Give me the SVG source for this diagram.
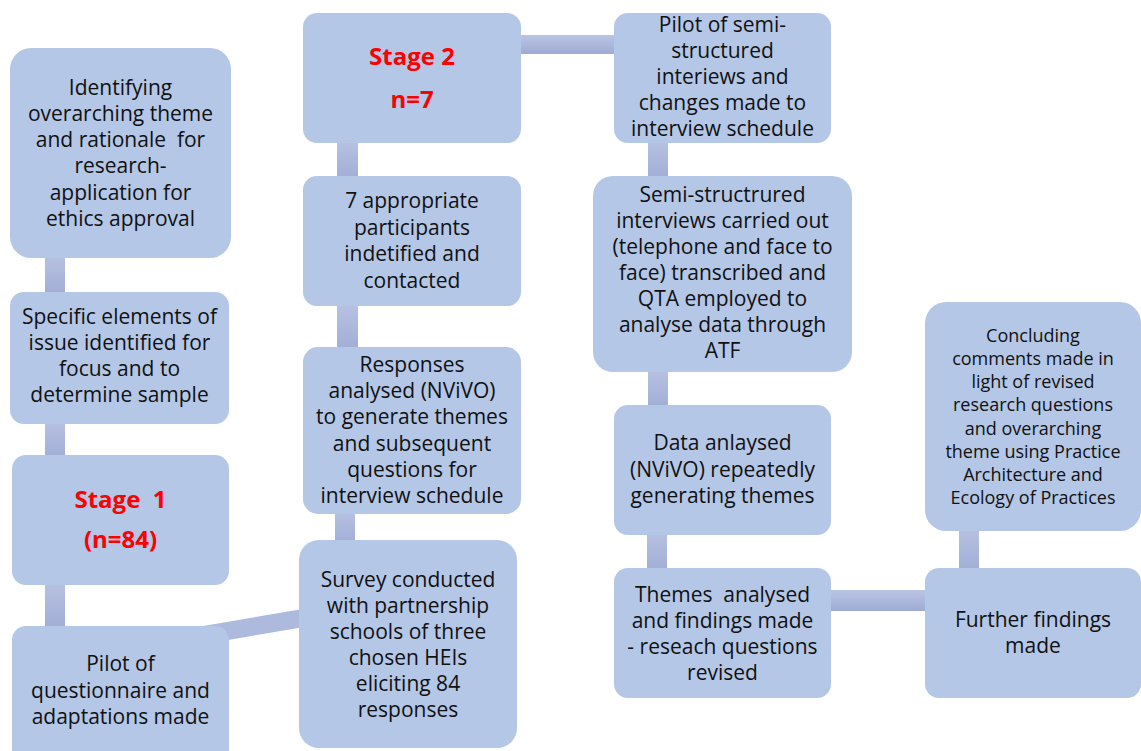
<svg xmlns="http://www.w3.org/2000/svg" width="1141" height="751" viewBox="0 0 1141 751">
  <defs>
    <linearGradient id="barShade" x1="0" y1="0" x2="0" y2="1">
      <stop offset="0" stop-color="#BAC4E4"/>
      <stop offset="1" stop-color="#9EABD3"/>
    </linearGradient>
    <style>
      .box { fill: #B4C7E7; }
      .bar { fill: url(#barShade); }
      .link { stroke: #AEBADD; stroke-width: 18; fill: none; }
      .t { font-family: "Open Sans", "Noto Sans", sans-serif; font-size: 21px; fill: #111111; text-anchor: middle; }
      .small { font-size: 18px; }
      .stage { font-family: "Open Sans", "Noto Sans", sans-serif; font-size: 24px; font-weight: bold; fill: #FF0000; text-anchor: middle; }
    </style>
  </defs>
  <rect width="1141" height="751" fill="#FFFFFF"/>

  <!-- connectors -->
  <g id="connectors">
    <!-- column 1 -->
    <rect class="bar" x="45" y="250" width="20" height="50"/>
    <rect class="bar" x="45" y="416" width="20" height="47"/>
    <rect class="bar" x="45" y="577" width="20" height="57"/>
    <line class="link" x1="190" y1="637.4" x2="310" y2="616.8"/>
    <!-- column 2 -->
    <rect class="bar" x="337" y="135" width="21" height="49"/>
    <rect class="bar" x="337" y="298" width="21" height="57"/>
    <rect class="bar" x="335" y="506" width="20" height="42"/>
    <rect class="bar" x="513" y="35" width="109" height="19"/>
    <!-- column 3 -->
    <rect class="bar" x="648" y="135" width="20" height="49"/>
    <rect class="bar" x="648" y="364" width="20" height="49"/>
    <rect class="bar" x="647" y="527" width="20" height="49"/>
    <rect class="bar" x="823" y="590" width="110" height="21"/>
    <!-- column 4 -->
    <rect class="bar" x="959" y="523" width="20" height="53"/>
  </g>

  <!-- Stage 1 column -->
  <g id="ethics">
    <rect class="box" x="10" y="48" width="221" height="210" rx="21"/>
    <text class="t" x="120.5" y="95">Identifying</text>
    <text class="t" x="120.5" y="121">overarching theme</text>
    <text class="t" x="120.5" y="147" xml:space="preserve">and rationale  for</text>
    <text class="t" x="120.5" y="173">research-</text>
    <text class="t" x="120.5" y="199.5">application for</text>
    <text class="t" x="120.5" y="225.5">ethics approval</text>
  </g>
  <g id="elements">
    <rect class="box" x="10" y="292" width="219" height="132" rx="14"/>
    <text class="t" x="119.5" y="324">Specific elements of</text>
    <text class="t" x="119.5" y="350">issue identified for</text>
    <text class="t" x="119.5" y="376">focus and to</text>
    <text class="t" x="119.5" y="402">determine sample</text>
  </g>
  <g id="stage1">
    <rect class="box" x="12" y="455" width="217" height="130" rx="14"/>
    <text class="stage" x="120.5" y="508" xml:space="preserve">Stage  1</text>
    <text class="stage" x="120.5" y="548">(n=84)</text>
  </g>
  <g id="pilot-questionnaire">
    <rect class="box" x="12" y="626" width="217" height="140" rx="14"/>
    <text class="t" x="120.5" y="671">Pilot of</text>
    <text class="t" x="120.5" y="697.5">questionnaire and</text>
    <text class="t" x="120.5" y="724">adaptations made</text>
  </g>

  <!-- Stage 2 column -->
  <g id="stage2">
    <rect class="box" x="303" y="13" width="218" height="130" rx="14"/>
    <text class="stage" x="412" y="65">Stage 2</text>
    <text class="stage" x="412" y="108">n=7</text>
  </g>
  <g id="participants">
    <rect class="box" x="303" y="176" width="218" height="130" rx="14"/>
    <text class="t" x="412" y="208">7 appropriate</text>
    <text class="t" x="412" y="234.7">participants</text>
    <text class="t" x="412" y="261.3">indetified and</text>
    <text class="t" x="412" y="288">contacted</text>
  </g>
  <g id="responses">
    <rect class="box" x="303" y="347" width="218" height="167" rx="15"/>
    <text class="t" x="412" y="372">Responses</text>
    <text class="t" x="412" y="398.2">analysed (NViVO)</text>
    <text class="t" x="412" y="424.4">to generate themes</text>
    <text class="t" x="412" y="450.6">and subsequent</text>
    <text class="t" x="412" y="476.8">questions for</text>
    <text class="t" x="412" y="503">interview schedule</text>
  </g>
  <g id="survey">
    <rect class="box" x="299" y="540" width="218" height="208" rx="20"/>
    <text class="t" x="408" y="587">Survey conducted</text>
    <text class="t" x="408" y="613">with partnership</text>
    <text class="t" x="408" y="639">schools of three</text>
    <text class="t" x="408" y="665">chosen HEIs</text>
    <text class="t" x="408" y="691">eliciting 84</text>
    <text class="t" x="408" y="717">responses</text>
  </g>

  <!-- interview column -->
  <g id="pilot-interviews">
    <rect class="box" x="614" y="13" width="217" height="130" rx="14"/>
    <text class="t" x="722.5" y="32">Pilot of semi-</text>
    <text class="t" x="722.5" y="58">structured</text>
    <text class="t" x="722.5" y="84">interiews and</text>
    <text class="t" x="722.5" y="110">changes made to</text>
    <text class="t" x="722.5" y="136">interview schedule</text>
  </g>
  <g id="interviews">
    <rect class="box" x="593" y="176" width="259" height="196" rx="20"/>
    <text class="t" x="722.5" y="202">Semi-structrured</text>
    <text class="t" x="722.5" y="228">interviews carried out</text>
    <text class="t" x="722.5" y="254">(telephone and face to</text>
    <text class="t" x="722.5" y="280">face) transcribed and</text>
    <text class="t" x="722.5" y="306">QTA employed to</text>
    <text class="t" x="722.5" y="332">analyse data through</text>
    <text class="t" x="722.5" y="358">ATF</text>
  </g>
  <g id="data-analysed">
    <rect class="box" x="614" y="405" width="217" height="130" rx="14"/>
    <text class="t" x="722.5" y="450">Data anlaysed</text>
    <text class="t" x="722.5" y="476.5">(NViVO) repeatedly</text>
    <text class="t" x="722.5" y="503">generating themes</text>
  </g>
  <g id="themes-analysed">
    <rect class="box" x="614" y="568" width="217" height="130" rx="14"/>
    <text class="t" x="722.5" y="602" xml:space="preserve">Themes  analysed</text>
    <text class="t" x="722.5" y="628">and findings made</text>
    <text class="t" x="722.5" y="654">- reseach questions</text>
    <text class="t" x="722.5" y="680">revised</text>
  </g>

  <!-- findings column -->
  <g id="concluding">
    <rect class="box" x="925" y="302" width="216" height="229" rx="21"/>
    <text class="t small" x="1033" y="342">Concluding</text>
    <text class="t small" x="1033" y="365">comments made in</text>
    <text class="t small" x="1033" y="388">light of revised</text>
    <text class="t small" x="1033" y="411">research questions</text>
    <text class="t small" x="1033" y="434.5">and overarching</text>
    <text class="t small" x="1033" y="457.5">theme using Practice</text>
    <text class="t small" x="1033" y="480.5">Architecture and</text>
    <text class="t small" x="1033" y="503.5">Ecology of Practices</text>
  </g>
  <g id="further-findings">
    <rect class="box" x="925" y="568" width="216" height="130" rx="14"/>
    <text class="t" x="1033" y="627">Further findings</text>
    <text class="t" x="1033" y="653">made</text>
  </g>
</svg>
